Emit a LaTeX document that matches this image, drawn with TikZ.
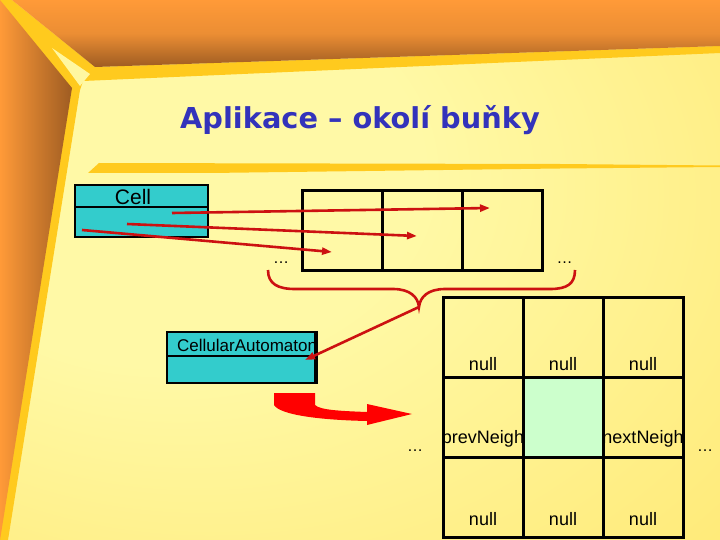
\documentclass[tikz,border=0pt]{standalone}
\usepackage{fontspec}
\setmainfont{Liberation Sans}
\newfontfamily\titlefont{DejaVu Sans}
\usetikzlibrary{arrows.meta}
\definecolor{paleY}{HTML}{FFF9A6}
\definecolor{midY}{HTML}{FFEA78}
\definecolor{goldY}{HTML}{FFD234}
\definecolor{stripeY}{HTML}{FFCA1E}
\definecolor{sliverY}{HTML}{FFF7A0}
\definecolor{bandO}{HTML}{FF9A38}
\definecolor{bandB}{HTML}{9E5C22}
\definecolor{titleB}{HTML}{3333BB}
\definecolor{cyanC}{HTML}{33CCCC}
\definecolor{greenC}{HTML}{CCFFCC}
\definecolor{arrR}{HTML}{CC1111}
\definecolor{bigR}{HTML}{FF0000}
\pgfdeclareradialshading{bgshade}{\pgfpoint{-18bp}{12bp}}{color(0bp)=(paleY); color(18bp)=(paleY); color(45bp)=(midY); color(75bp)=(goldY)}
\begin{document}
\begin{tikzpicture}[x=1pt,y=-1pt,
  redarrow/.style={draw=arrR, line width=2.6pt, -{Triangle[length=10pt,width=7pt]}},
  redline/.style={draw=arrR, line width=2.6pt},
  boxpart/.style={draw=black, line width=2.5pt, fill=cyanC, inner sep=0pt},
  arrcell/.style={draw=black, line width=3pt, minimum width=79.67pt, minimum height=79pt, inner sep=0pt},
  gridcell/.style={draw=black, line width=3pt, minimum width=80pt, minimum height=80pt, inner sep=0pt},
  lbl/.style={font=\fontsize{18}{18}\selectfont, inner sep=0pt, anchor=base},
  dotlbl/.style={font=\fontsize{16}{16}\selectfont, inner sep=0pt, anchor=base},
]
\useasboundingbox (0,0) rectangle (720,540);
% background
\shade[shading=bgshade] (0,0) rectangle (720,540);
\fill[stripeY] (0,0) -- (12,0) -- (95,67) -- (720,46) -- (720,53) -- (83,81) -- (80,90) -- (8,540) -- (0,540) -- cycle;
\shade[top color=bandO, bottom color=bandB, middle color=bandO!80!bandB] (12,0) -- (720,0) -- (720,46) -- (95,67) -- cycle;
\shade[left color=bandO, right color=bandB] (0,0) -- (72,88) -- (0,540) -- cycle;
\fill[sliverY] (52,48) -- (90,74) -- (80,86) -- cycle;
\fill[stripeY] (88,173) -- (99,163) -- (560,164) -- (720,165.5) -- (720,167) -- (560,168.5) -- (210,173) -- cycle;
% title
\node[font=\titlefont\bfseries\fontsize{28.8}{30}\selectfont, text=titleB, anchor=base west, inner sep=0pt] (title) at (180,129) {Aplikace – okolí buňky};
% Cell class box
\node[boxpart, minimum width=133pt, minimum height=22pt] (cellTop) at (141.5,196) {};
\node[boxpart, minimum width=133pt, minimum height=30pt] (cellBot) at (141.5,222) {};
\node[font=\fontsize{21}{21}\selectfont, inner sep=0pt, anchor=base] (cellName) at (133,205) {Cell};
% array of cells
\node[arrcell] (a1) at (342.8,230.5) {};
\node[arrcell] (a2) at (422.5,230.5) {};
\node[arrcell] (a3) at (502.2,230.5) {};
\node[dotlbl] (adotsL) at (281,263) {…};
\node[dotlbl] (adotsR) at (564.5,263) {…};
% arrows from Cell to array
\coordinate (s1) at (172,213);
\coordinate (s2) at (127,224);
\coordinate (s3) at (82,230);
\coordinate (e1) at (490,208);
\coordinate (e2) at (417,236);
\coordinate (e3) at (332,252);
\draw[redarrow] (s1) -- (e1);
\draw[redarrow] (s2) -- (e2);
\draw[redarrow] (s3) -- (e3);
% brace
\coordinate (cusp) at (419,307);
\draw[redline] (268,270) .. controls (268,284) and (278,289) .. (295,289) -- (393,289) .. controls (410,289) and (418,297) .. (cusp) .. controls (420,297) and (428,289) .. (445,289) -- (550,289) .. controls (567,289) and (575,284) .. (575,270);
% CellularAutomaton box
\node[boxpart, minimum width=148pt, minimum height=24pt] (caTop) at (241,344) {};
\node[boxpart, minimum width=148pt, minimum height=27pt] (caBot) at (241,369.5) {};
\node[font=\fontsize{17}{17}\selectfont, inner sep=0pt, anchor=base west] (caName) at (177,351) {CellularAutomaton};
\draw[line width=2.5pt] (caTop.north east) -- (caBot.south east);
\coordinate (caTip) at (305,360);
\draw[redarrow] (cusp) -- (caTip);
% big red arrow
\fill[bigR] (274,393) -- (315,393) -- (315,405) .. controls (320,410) and (340,411) .. (367,412) -- (367,404) -- (412,414) -- (367,425) -- (367,421) .. controls (320,420) and (280,415) .. (274,405) -- cycle;
% neighbourhood grid
\fill[greenC] (523,377) rectangle (603,457);
\node[lbl] (n11) at (483,370) {null};
\node[lbl] (n12) at (563,370) {null};
\node[lbl] (n13) at (643,370) {null};
\node[lbl] (prev) at (483,443) {prevNeigh};
\node[lbl] (next) at (643,443) {nextNeigh};
\node[lbl] (n31) at (483,525) {null};
\node[lbl] (n32) at (563,525) {null};
\node[lbl] (n33) at (643,525) {null};
\node[gridcell] (g11) at (483,337) {};
\node[gridcell] (g12) at (563,337) {};
\node[gridcell] (g13) at (643,337) {};
\node[gridcell] (g21) at (483,417) {};
\node[gridcell] (g22) at (563,417) {};
\node[gridcell] (g23) at (643,417) {};
\node[gridcell] (g31) at (483,497) {};
\node[gridcell] (g32) at (563,497) {};
\node[gridcell] (g33) at (643,497) {};
\node[dotlbl] (gdotsL) at (415,451) {…};
\node[dotlbl] (gdotsR) at (705,451) {…};
\end{tikzpicture}
\end{document}
